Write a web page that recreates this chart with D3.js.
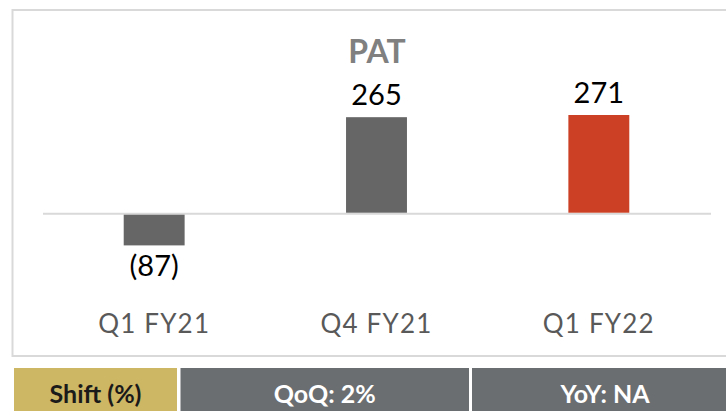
<!DOCTYPE html>
<html><head><meta charset="utf-8">
<script src="https://cdn.jsdelivr.net/npm/d3@7"></script>
<style>html,body{margin:0;padding:0;background:#fff;overflow:hidden}svg{display:block}</style>
</head><body>
<svg id="c" width="726" height="411"></svg>
<script>
const title = "PAT";
const categories = ["Q1 FY21", "Q4 FY21", "Q1 FY22"];
const values = [-87, 265, 271];
const barColors = ["#666666", "#666666", "#CC4125"];
const shiftLabels = ["Shift (%)", "QoQ: 2%", "YoY: NA"];

const font = "Lato, 'Open Sans', sans-serif";
const svg = d3.select("#c");

// outer frame
svg.append("rect").attr("x", 12.5).attr("y", 10).attr("width", 730).attr("height", 346)
  .attr("fill", "#fff").attr("stroke", "#d9d9d9").attr("stroke-width", 2);

const x = d3.scaleBand().domain(categories).range([43, 710]).paddingInner(0.726).paddingOuter(0.363);
const y = d3.scaleLinear().domain([-87, 271]).range([245.4, 115]);

svg.append("text").attr("x", 377).attr("y", 63).attr("text-anchor", "middle")
  .attr("font-family", font).attr("font-weight", 700).attr("font-size", 32)
  .attr("fill", "#808080").text(title);

// baseline
svg.append("line").attr("x1", 43).attr("x2", 711).attr("y1", y(0)).attr("y2", y(0))
  .attr("stroke", "#d9d9d9").attr("stroke-width", 2);

svg.selectAll("rect.bar").data(values).join("rect").attr("class", "bar")
  .attr("x", (d, i) => x(categories[i]))
  .attr("width", x.bandwidth())
  .attr("y", d => d >= 0 ? y(d) : y(0) + 1)
  .attr("height", d => d >= 0 ? y(0) - y(d) - 1 : y(d) - y(0) - 1)
  .attr("fill", (d, i) => barColors[i]);

const fmt = v => v < 0 ? "(" + Math.abs(v) + ")" : String(v);
svg.selectAll("text.val").data(values).join("text").attr("class", "val")
  .attr("x", (d, i) => x(categories[i]) + x.bandwidth() / 2)
  .attr("y", d => d >= 0 ? y(d) - 12 : y(d) + 31)
  .attr("text-anchor", "middle").attr("font-family", font).attr("font-size", 29)
  .attr("fill", "#000").text(fmt);

svg.selectAll("text.cat").data(categories).join("text").attr("class", "cat")
  .attr("x", d => x(d) + x.bandwidth() / 2).attr("y", 333)
  .attr("text-anchor", "middle").attr("font-family", font).attr("font-size", 26)
  .attr("letter-spacing", 1.2)
  .attr("fill", "#595959").text(d => d);

// shift strip
const strip = [
  {x0: 14, x1: 177, fill: "#CDB664", color: "#1a1a1a"},
  {x0: 180.5, x1: 469, fill: "#6B6E70", color: "#ffffff"},
  {x0: 472, x1: 726, fill: "#6B6E70", color: "#ffffff"}
];
strip.forEach((s, i) => {
  svg.append("rect").attr("x", s.x0).attr("y", 368).attr("width", s.x1 - s.x0).attr("height", 43).attr("fill", s.fill);
  svg.append("text").attr("x", (s.x0 + s.x1) / 2 + (i === 2 ? 6 : 0)).attr("y", 403).attr("text-anchor", "middle")
    .attr("font-family", font).attr("font-weight", 700).attr("font-size", 25)
    .attr("fill", s.color).text(shiftLabels[i]);
});
</script>
</body></html>
